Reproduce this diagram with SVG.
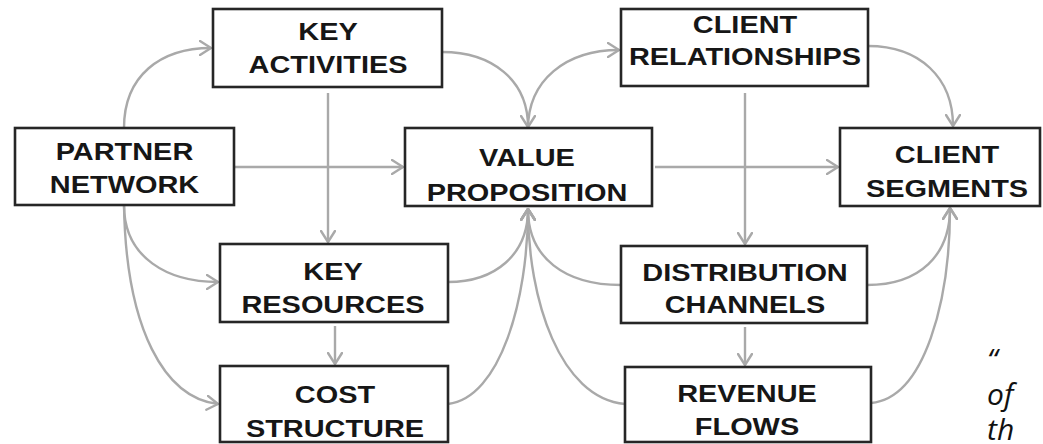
<svg xmlns="http://www.w3.org/2000/svg" width="1043" height="444" viewBox="0 0 1043 444">
  <style>
    .box { fill: #ffffff; stroke: #262626; stroke-width: 2.6; }
    .lbl { font-family: "Liberation Sans", Arial, sans-serif; font-weight: bold; font-size: 24.5px; fill: #161616; text-anchor: middle; }
    .link { fill: none; stroke: #a9a9a9; stroke-width: 2.4; marker-end: url(#arr); }
    .quote { font-family: "Open Sans", "DejaVu Sans", sans-serif; font-style: italic; font-size: 30px; fill: #111111; }
  </style>
  <defs>
    <marker id="arr" viewBox="0 0 13 16" refX="12" refY="8" markerWidth="13" markerHeight="16" markerUnits="userSpaceOnUse" orient="auto">
      <path d="M1,1 L12,8 L1,15" fill="none" stroke="#a9a9a9" stroke-width="2.4" stroke-linecap="round" stroke-linejoin="round"/>
    </marker>
  </defs>
  <rect width="1043" height="444" fill="#ffffff"/>

  <!-- connectors -->
  <g id="connectors">
    <path class="link" d="M124,128 C124,76 160,48 211,48"/>
    <path class="link" d="M234,167 L403,167"/>
    <path class="link" d="M328,93 L328,242"/>
    <path class="link" d="M442,52 C492,52 528,80 528,127"/>
    <path class="link" d="M528,129 C528,80 566,50 619,50"/>
    <path class="link" d="M655,167 L838,167"/>
    <path class="link" d="M868,46 C920,46 953,78 953,126"/>
    <path class="link" d="M745,93 L745,244"/>
    <path class="link" d="M124,205 C124,258 168,282 218,282"/>
    <path class="link" d="M124,205 C126,330 165,398 218,404"/>
    <path class="link" d="M335,326 L335,364"/>
    <path class="link" d="M448,282 C495,282 528,255 528,209"/>
    <path class="link" d="M448,404 C500,398 528,300 528,209"/>
    <path class="link" d="M621,285 C565,285 528,258 528,209"/>
    <path class="link" d="M625,404 C560,398 528,300 528,209"/>
    <path class="link" d="M745,327 L745,365"/>
    <path class="link" d="M867,285 C920,285 950,255 950,208"/>
    <path class="link" d="M871,403 C925,398 950,300 950,208"/>
  </g>

  <!-- nodes -->
  <g id="key-activities">
    <rect class="box" x="213" y="9" width="229" height="78"/>
    <text class="lbl" transform="translate(328 0) scale(1.18 1)"><tspan x="0" y="40">KEY</tspan><tspan x="0" y="73">ACTIVITIES</tspan></text>
  </g>
  <g id="partner-network">
    <rect class="box" x="15" y="128" width="219" height="77"/>
    <text class="lbl" transform="translate(124.5 0) scale(1.18 1)"><tspan x="0" y="160">PARTNER</tspan><tspan x="0" y="193">NETWORK</tspan></text>
  </g>
  <g id="value-proposition">
    <rect class="box" x="405" y="128" width="247" height="78"/>
    <text class="lbl" transform="translate(527 0) scale(1.18 1)"><tspan x="0" y="166">VALUE</tspan><tspan x="0" y="201">PROPOSITION</tspan></text>
  </g>
  <g id="client-relationships">
    <rect class="box" x="621" y="9" width="247" height="77"/>
    <text class="lbl" transform="translate(745 0) scale(1.18 1)"><tspan x="0" y="33">CLIENT</tspan><tspan x="0" y="65">RELATIONSHIPS</tspan></text>
  </g>
  <g id="client-segments">
    <rect class="box" x="840" y="128" width="200" height="78"/>
    <text class="lbl" transform="translate(947 0) scale(1.18 1)"><tspan x="0" y="163">CLIENT</tspan><tspan x="0" y="197">SEGMENTS</tspan></text>
  </g>
  <g id="key-resources">
    <rect class="box" x="220" y="244" width="228" height="78"/>
    <text class="lbl" transform="translate(333 0) scale(1.18 1)"><tspan x="0" y="280">KEY</tspan><tspan x="0" y="313">RESOURCES</tspan></text>
  </g>
  <g id="cost-structure">
    <rect class="box" x="220" y="366" width="228" height="76"/>
    <text class="lbl" transform="translate(335 0) scale(1.18 1)"><tspan x="0" y="403">COST</tspan><tspan x="0" y="437">STRUCTURE</tspan></text>
  </g>
  <g id="distribution-channels">
    <rect class="box" x="621" y="246" width="246" height="77"/>
    <text class="lbl" transform="translate(745 0) scale(1.18 1)"><tspan x="0" y="281">DISTRIBUTION</tspan><tspan x="0" y="313">CHANNELS</tspan></text>
  </g>
  <g id="revenue-flows">
    <rect class="box" x="625" y="367" width="246" height="75"/>
    <text class="lbl" transform="translate(747 0) scale(1.18 1)"><tspan x="0" y="402">REVENUE</tspan><tspan x="0" y="435">FLOWS</tspan></text>
  </g>

  <!-- quotation running off the right edge -->
  <g id="quote">
    <text class="quote" x="987" y="370">“</text>
    <text class="quote" x="987" y="405">of</text>
    <text class="quote" x="987" y="440">th</text>
  </g>
</svg>
